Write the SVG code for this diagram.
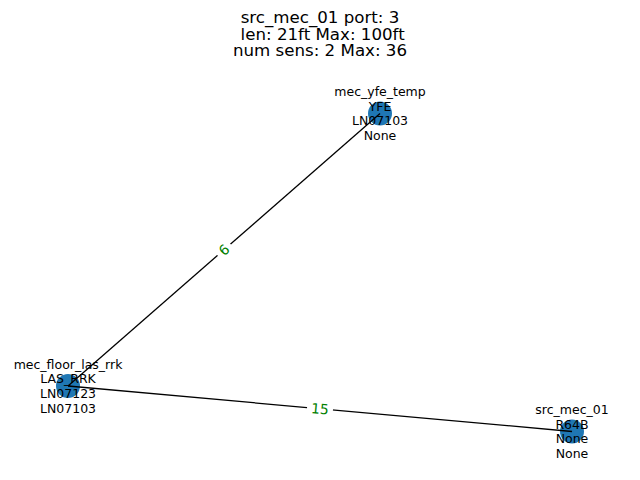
<svg xmlns="http://www.w3.org/2000/svg" width="640" height="480" viewBox="0 0 640 480">
<style>
.t{font-family:"DejaVu Sans",sans-serif;fill:#000}
.title{font-size:16.67px;text-anchor:middle}
.nl{font-size:12.5px;text-anchor:middle}
.node{fill:#1f77b4}
.edge{stroke:#000;stroke-width:1.3;fill:none}
.el{font-family:"DejaVu Sans",sans-serif;font-size:13.9px;fill:#008000;text-anchor:middle}
.bb{fill:#fff}
</style>
<rect width="640" height="480" fill="#fff"/>
<g id="title">
<text class="t title" x="320" y="22.5">src_mec_01 port: 3</text>
<text class="t title" x="320" y="39.5">&#160;len: 21ft Max: 100ft</text>
<text class="t title" x="320" y="56.3">num sens: 2 Max: 36</text>
</g>
<g id="node-mec_yfe_temp">
<circle class="node" cx="380" cy="113.5" r="12"/>
</g>
<g id="node-mec_floor_las_rrk">
<circle class="node" cx="68" cy="386" r="12"/>
</g>
<g id="node-src_mec_01">
<circle class="node" cx="572" cy="431.5" r="12"/>
</g>
<g id="connectors">
<line class="edge" x1="68" y1="386" x2="380" y2="113.5"/>
<line class="edge" x1="68" y1="386" x2="572" y2="431.5"/>
</g>
<g id="labels-mec_yfe_temp">
<text class="t nl" x="380" y="96">mec_yfe_temp</text>
<text class="t nl" x="380" y="110.7">YFE</text>
<text class="t nl" x="380" y="125.4">LN07103</text>
<text class="t nl" x="380" y="140.1">None</text>
</g>
<g id="labels-mec_floor_las_rrk">
<text class="t nl" x="68" y="368.5">mec_floor_las_rrk</text>
<text class="t nl" x="68" y="383.2">LAS_RRK</text>
<text class="t nl" x="68" y="397.9">LN07123</text>
<text class="t nl" x="68" y="412.6">LN07103</text>
</g>
<g id="labels-src_mec_01">
<text class="t nl" x="572" y="414">src_mec_01</text>
<text class="t nl" x="572" y="428.7">R64B</text>
<text class="t nl" x="572" y="443.4">None</text>
<text class="t nl" x="572" y="458.1">None</text>
</g>
<g id="edge-labels">
<g transform="translate(224 249.75) rotate(-41.13)">
<rect class="bb" x="-8.6" y="-12" width="17.2" height="24" rx="4"/>
<text class="el" x="0" y="5">6</text>
</g>
<g transform="translate(320 408.75) rotate(5.16)">
<rect class="bb" x="-13" y="-12" width="26" height="24" rx="4"/>
<text class="el" x="0" y="5">15</text>
</g>
</g>
</svg>
